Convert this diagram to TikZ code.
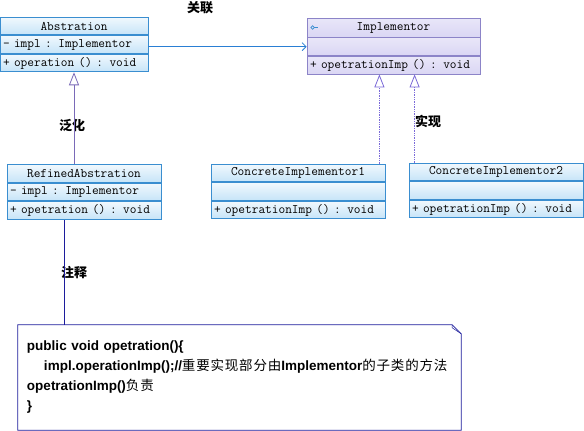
\documentclass[tikz,border=0pt]{standalone}
\usepackage{fontspec}
\setmainfont{Liberation Sans}
\newfontfamily\cjk{Noto Sans CJK SC}
\newfontfamily\cjknote[LetterSpace=6]{Noto Sans CJK SC}
\definecolor{umlblue}{HTML}{3A8ED0}
\definecolor{umlsky}{HTML}{C6E4F8}
\definecolor{umlline}{HTML}{2A7FD4}
\definecolor{umlviolet}{HTML}{8C84C8}
\definecolor{umllilac}{HTML}{DAD6F4}
\definecolor{umlgen}{HTML}{7A6AB8}
\definecolor{umldot}{HTML}{7B6AD8}
\definecolor{umlnavy}{HTML}{1C1C9C}
\usetikzlibrary{arrows.meta,positioning,calc}

\begin{document}
\begin{tikzpicture}[x=1pt,y=-1pt,
  head/.style={draw=umlblue, line width=0.8pt, top color=umlsky!25, bottom color=umlsky, minimum height=17.7pt, inner xsep=3pt, inner ysep=0pt, font=\ttfamily\fontsize{13}{13}\selectfont},
  row/.style={head, align=left},
  ihead/.style={head, draw=umlviolet, top color=umllilac!60, bottom color=umllilac},
  irow/.style={ihead, align=left},
  lbl/.style={font=\cjk\bfseries\fontsize{13}{13}\selectfont, inner sep=0pt},
  assoc/.style={draw=umlline, line width=0.8pt, -{Straight Barb[length=4pt,width=8pt]}},
  gen/.style={draw=umlgen, line width=0.8pt, -{Triangle[open,length=13pt,width=10pt]}},
  real/.style={draw=umldot, line width=1.2pt, dash pattern=on 1.4pt off 1pt, -{Triangle[open,length=13pt,width=10pt,line width=0.8pt]}},
  notebox/.style={draw=umlnavy, line width=0.8pt},
  notetext/.style={minimum width=443pt, minimum height=105pt, text width=425pt, inner xsep=9pt, align=left, font=\bfseries\fontsize{13.5}{20}\selectfont}]
  \useasboundingbox[fill=white] (0,0) rectangle (584,431);

  % Abstration
  \node[head, minimum width=148pt] (absHead) at (74,26) {Abstration};
  \node[row, text width=142pt, below=0pt of absHead] (absAttr) {- impl : Implementor};
  \node[row, text width=142pt, below=0pt of absAttr] (absOp) {+ operation () : void};

  % Implementor
  \node[ihead, minimum width=173pt, minimum height=19pt] (impHead) at (393.5,27.5) {Implementor};
  \node[irow, text width=167pt, below=0pt of impHead] (impAttr) {};
  \node[irow, text width=167pt, below=0pt of impAttr] (impOp) {+ opetrationImp () : void};
  \draw[umlblue, line width=0.7pt] ($(impHead.west)+(6,0)$) circle (1.8pt);
  \draw[umlblue, line width=0.7pt] ($(impHead.west)+(7.8,0)$) -- ++(3.5,0);

  % RefinedAbstration
  \node[head, minimum width=154pt] (refHead) at (84,173.5) {RefinedAbstration};
  \node[row, text width=148pt, below=0pt of refHead] (refAttr) {- impl : Implementor};
  \node[row, text width=148pt, below=0pt of refAttr] (refOp) {+ opetration () : void};

  % ConcreteImplementor1
  \node[head, minimum width=174pt] (ci1Head) at (298,173) {ConcreteImplementor1};
  \node[row, text width=168pt, below=0pt of ci1Head] (ci1Attr) {};
  \node[row, text width=168pt, below=0pt of ci1Attr] (ci1Op) {+ opetrationImp () : void};

  % ConcreteImplementor2
  \node[head, minimum width=174pt] (ci2Head) at (496,172) {ConcreteImplementor2};
  \node[row, text width=168pt, below=0pt of ci2Head] (ci2Attr) {};
  \node[row, text width=168pt, below=0pt of ci2Attr] (ci2Op) {+ opetrationImp () : void};

  % Note
  \node[notetext] (note) at (239.5,377.5) {public void opetration()\{\\
    \hspace*{17pt}impl.operationImp();//{\cjknote\mdseries 重要实现部分由}Implementor{\cjknote\mdseries 的子类的方法}\\
    opetrationImp(){\cjknote\mdseries 负责}\\
    \}};
  \draw[notebox] (note.north west) -- ($(note.north east)+(-9,0)$) -- ($(note.north east)+(0,9)$) -- (note.south east) -- (note.south west) -- cycle;
  \draw[notebox, line width=0.5pt] ($(note.north east)+(-9,0)$) -- ++(0,3) -- ($(note.north east)+(0,9)$);

  % Labels
  \node[lbl] (lblAssoc) at (200,8) {关联};
  \node[lbl] (lblGen) at (72,126) {泛化};
  \node[lbl] (lblReal) at (428,121) {实现};
  \node[lbl] (lblNote) at (74,273) {注释};

  % Connector ends
  \coordinate (ci1Top) at ($(ci1Head.north east)+(-6,0)$);
  \coordinate (ci2Top) at ($(ci2Head.north west)+(6,0)$);
  \coordinate (refLink) at ($(refOp.south)+(-20,0)$);

  % Connectors
  \draw[assoc] (absAttr.east |- impAttr.west) -- (impAttr.west);
  \draw[gen] (refHead.north -| absOp.south) -- (absOp.south);
  \draw[real] (ci1Top) -- (ci1Top |- impOp.south);
  \draw[real] (ci2Top) -- (ci2Top |- impOp.south);
  \draw[umlnavy, line width=0.8pt] (refLink) -- (refLink |- note.north);
\end{tikzpicture}
\end{document}
